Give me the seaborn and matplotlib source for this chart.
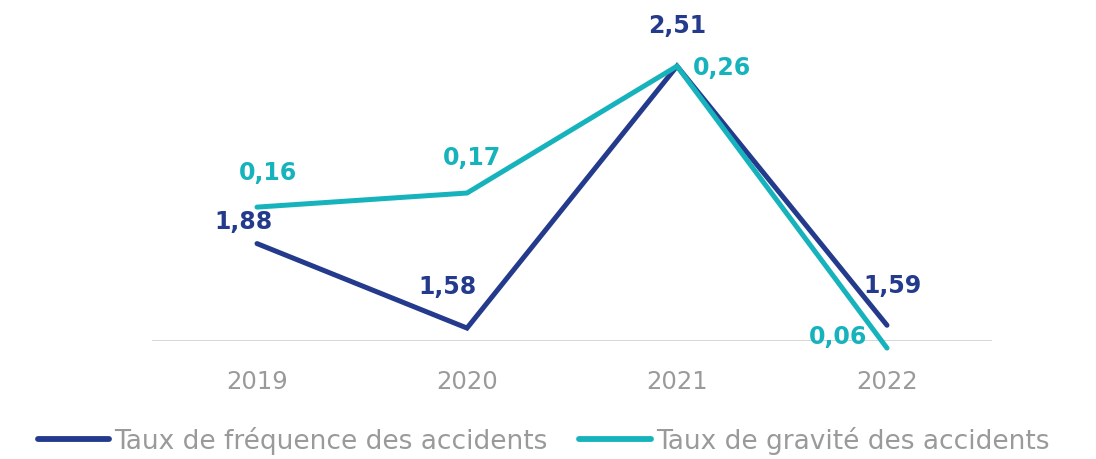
import pandas as pd
import matplotlib.pyplot as plt
import seaborn as sns

years = ["2019", "2020", "2021", "2022"]
freq = [1.88, 1.58, 2.51, 1.59]
grav = [0.16, 0.17, 0.26, 0.06]
freq_labels = ["1,88", "1,58", "2,51", "1,59"]
grav_labels = ["0,16", "0,17", "0,26", "0,06"]

NAVY = "#243a8c"
TEAL = "#17b3bd"
GREY = "#9a9a9a"

sns.set_theme(style="white")
plt.rcParams['font.family'] = ['DejaVu Sans']

df = pd.DataFrame({"year": years, "freq": freq, "grav": grav})
df["x"] = range(len(years))

fig = plt.figure(figsize=(10.96, 4.59), dpi=100)
ax = fig.add_axes([0.1387, 0.257, 0.7664, 0.699])
ax2 = ax.twinx()

sns.lineplot(data=df, x="x", y="freq", ax=ax, color=NAVY, linewidth=3.6,
             solid_capstyle="round", solid_joinstyle="miter", clip_on=False)
sns.lineplot(data=df, x="x", y="grav", ax=ax2, color=TEAL, linewidth=3.6,
             solid_capstyle="round", solid_joinstyle="miter", clip_on=False)

ax.set_xlim(-0.5, 3.5)
ax.set_ylim(1.534, 2.673)
ax2.set_ylim(0.065, 0.2926)

for a in (ax, ax2):
    a.set_yticks([])
    a.set_ylabel("")
    a.set_xlabel("")
    for s in a.spines.values():
        s.set_visible(False)
ax.axhline(1.534, color="#d0d0d0", linewidth=1.2, zorder=0)

ax.set_xticks(range(len(years)))
ax.set_xticklabels(years, fontsize=17.5, color=GREY)
ax.tick_params(axis="x", length=0, pad=21)

# label offsets in pixels
freq_off = [(-14, 22), (-20, 41), (0, 40), (6, 39)]
grav_off = [(11, 34), (5, 35), (45, -2), (-49, 11)]
for i in range(len(years)):
    ax.annotate(freq_labels[i], (i, freq[i]), xytext=freq_off[i], textcoords="offset pixels",
                ha="center", va="center", fontsize=17, fontweight="bold", color=NAVY,
                annotation_clip=False)
    ax2.annotate(grav_labels[i], (i, grav[i]), xytext=grav_off[i], textcoords="offset pixels",
                 ha="center", va="center", fontsize=17, fontweight="bold", color=TEAL,
                 annotation_clip=False)

h1 = plt.Line2D([], [], color=NAVY, linewidth=4.2, solid_capstyle="round")
h2 = plt.Line2D([], [], color=TEAL, linewidth=4.2, solid_capstyle="round")
leg = fig.legend([h1, h2], ["Taux de fréquence des accidents", "Taux de gravité des accidents"],
                 loc="center", bbox_to_anchor=(0.496, 0.04), ncol=2, frameon=False,
                 fontsize=19, handlelength=2.7, handletextpad=0.2, columnspacing=1.2)
for t in leg.get_texts():
    t.set_color(GREY)

fig.savefig("out.png", dpi=100)
